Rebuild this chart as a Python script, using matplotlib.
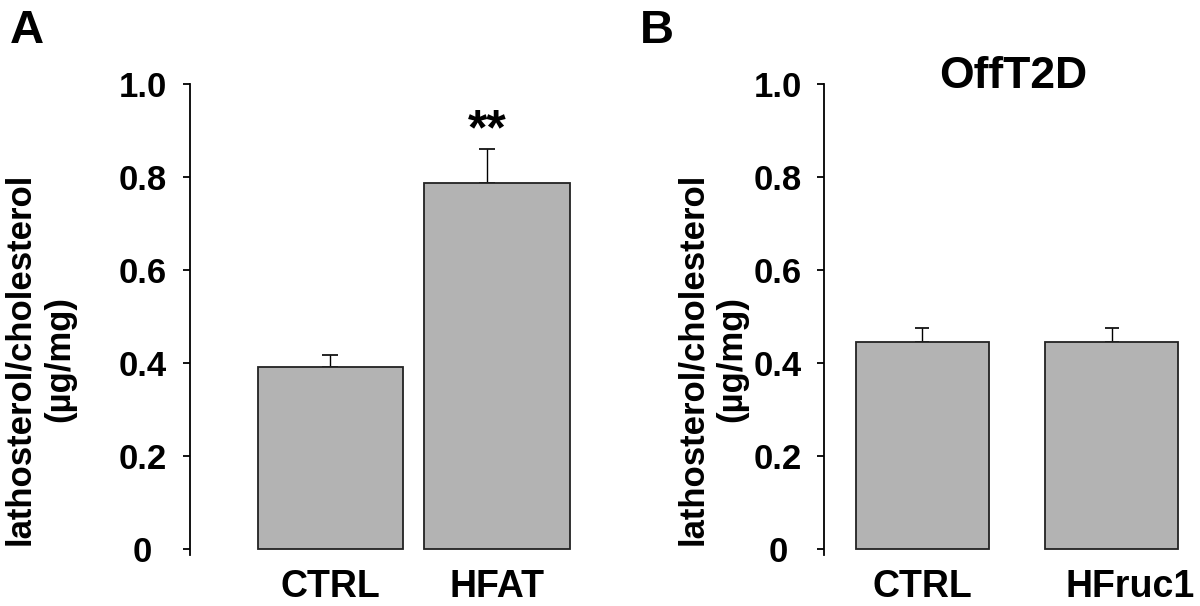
import matplotlib
matplotlib.use("Agg")
import matplotlib.pyplot as plt
from matplotlib.transforms import ScaledTranslation

plt.rcParams['font.family'] = ['Liberation Sans', 'DejaVu Sans']
plt.rcParams['font.weight'] = 'bold'

# panel A
a_groups = ['CTRL', 'HFAT']
a_means = [0.391, 0.787]
a_sem = [0.027, 0.074]
a_sig = ['', '**']

# panel B
b_groups = ['CTRL', 'HFruc1']
b_means = [0.446, 0.446]
b_sem = [0.029, 0.029]
b_title = 'OffT2D'

yticks = [0, 0.2, 0.4, 0.6, 0.8, 1.0]
ytick_labels = ['0', '0.2', '0.4', '0.6', '0.8', '1.0']
ylab = 'lathosterol/cholesterol\n(\u00b5g/mg)'

W, H = 1200, 606
fig = plt.figure(figsize=(W / 100, H / 100), dpi=100)

bar_color = '#b3b3b3'
# in the original the HFAT error bar is drawn a little left of the bar centre
a_err_shift = [0, -0.06]


def px_axes(left, right, top, bottom):
    return fig.add_axes([left / W, (H - bottom) / H, (right - left) / W, (bottom - top) / H])


def style_axis(ax, xlim, pad):
    ax.set_ylim(-0.013, 1.0)
    ax.set_xlim(*xlim)
    for s in ['top', 'right', 'bottom']:
        ax.spines[s].set_visible(False)
    ax.spines['left'].set_linewidth(1.3)
    ax.set_yticks(yticks)
    ax.set_yticklabels(ytick_labels, fontsize=25, fontweight='bold')
    ax.tick_params(axis='y', direction='out', length=5, width=1.3, pad=pad)
    for lab in ax.get_yticklabels():
        lab.set_ha('center')
    ax.tick_params(axis='x', length=0, pad=10)


# ---- A ----
axA = px_axes(189.7, 597, 84, 555)
xa = list(range(len(a_groups)))
axA.bar(xa, a_means, width=0.875, color=bar_color, edgecolor='#222222', linewidth=1.3, zorder=2)
xa_err = [x + d for x, d in zip(xa, a_err_shift)]
axA.errorbar(xa_err, a_means, yerr=[[0] * len(a_sem), a_sem], fmt='none', ecolor='black',
             elinewidth=1.0, capsize=6, capthick=1.2, clip_on=False, zorder=1)
for x, m, s, t in zip(xa_err, a_means, a_sem, a_sig):
    if t:
        axA.annotate(t, (x, m + s), xytext=(0, -4), textcoords='offset points',
                     ha='center', va='bottom', fontsize=36, fontweight='bold')
style_axis(axA, (-0.845, 1.6), 29)
axA.set_xticks(xa)
axA.set_xticklabels(a_groups, fontsize=27, fontweight='bold')

# ---- B ----
axB = px_axes(824, 1195, 84, 555)
xb = list(range(len(b_groups)))
axB.bar(xb, b_means, width=0.70, color=bar_color, edgecolor='#222222', linewidth=1.3, zorder=2)
axB.errorbar(xb, b_means, yerr=[[0] * len(b_sem), b_sem], fmt='none', ecolor='black',
             elinewidth=1.0, capsize=5, capthick=1.2, clip_on=False, zorder=1)
style_axis(axB, (-0.52, 1.44), 28)
axB.set_xticks(xb)
axB.set_xticklabels(b_groups, fontsize=27, fontweight='bold')
# HFruc1 label sits a bit right of its bar
lab = axB.get_xticklabels()[1]
lab.set_transform(lab.get_transform() + ScaledTranslation(0.18, 0, fig.dpi_scale_trans))
fig.text(1013 / W, 1 - 77 / H, b_title, ha='center', va='center',
         fontsize=32, fontweight='bold')

# y labels and panel letters
fig.text(39.5 / W, 1 - 359 / H, ylab, rotation=90, ha='center', va='center',
         multialignment='center', fontsize=25, fontweight='bold', linespacing=1.25)
fig.text(712 / W, 1 - 359 / H, ylab, rotation=90, ha='center', va='center',
         multialignment='center', fontsize=25, fontweight='bold', linespacing=1.25)
fig.text(10 / W, 1 - 9 / H, 'A', ha='left', va='top', fontsize=34, fontweight='bold')
fig.text(640 / W, 1 - 9 / H, 'B', ha='left', va='top', fontsize=34, fontweight='bold')

fig.savefig('out.png', dpi=100)
